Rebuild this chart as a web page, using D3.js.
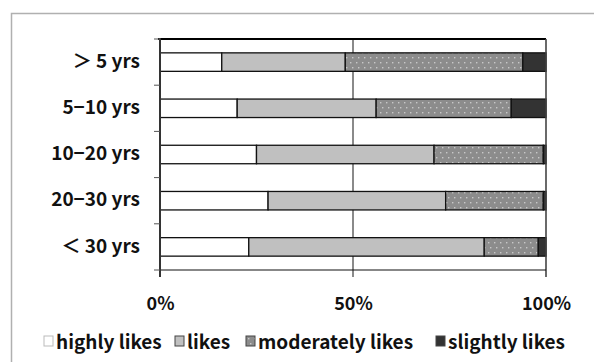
<!DOCTYPE html>
<html><head><meta charset="utf-8">
<script src="https://cdn.jsdelivr.net/npm/d3@7"></script>
<style>body{margin:0;background:#fff}svg{display:block}</style>
</head><body><svg id="c" width="594" height="362"></svg>
<script>
const categories = ["＞ 5 yrs", "5−10 yrs", "10−20 yrs", "20−30 yrs", "＜ 30 yrs"];
const seriesNames = ["highly likes", "likes", "moderately likes", "slightly likes"];
const highlyLikes = [16, 20, 25, 28, 23];
const likes = [32, 36, 46, 46, 61];
const moderatelyLikes = [46, 35, 28.3, 25.3, 14];
const slightlyLikes = [6, 9, 0.7, 0.7, 2];
const tickValues = [0, 0.5, 1];
const tickLabels = ["0%", "50%", "100%"];

const series = [highlyLikes, likes, moderatelyLikes, slightlyLikes];
const fills = ["#ffffff", "#c0c0c0", "url(#dots)", "#333333"];
const FONT = "'Noto Sans CJK JP', sans-serif";

const svg = d3.select("#c");
const defs = svg.append("defs");
const pat = defs.append("pattern").attr("id", "dots").attr("patternUnits", "userSpaceOnUse")
  .attr("width", 6).attr("height", 10);
pat.append("rect").attr("width", 6).attr("height", 10).attr("fill", "#8c8c8c");
pat.append("rect").attr("x", 2).attr("y", 2).attr("width", 1.4).attr("height", 1.4).attr("fill", "#c8c8c8");
pat.append("rect").attr("x", 4).attr("y", 7).attr("width", 1.4).attr("height", 1.4).attr("fill", "#c8c8c8");

// outer frame
svg.append("path").attr("d", "M11.5,362 V13.5 H594").attr("fill", "none").attr("stroke", "#b0b0b0").attr("stroke-width", 1.5);

const x0 = 160, x1 = 546, yTop = 39, yBot = 270;
const x = d3.scaleLinear().domain([0, 1]).range([x0, x1]);
const yb = d3.scaleBand().domain(categories).range([yTop, yBot]).paddingInner(0.6).paddingOuter(0.3);
const yOuter = d3.scaleBand().domain(categories).range([yTop, yBot]);

const rows = categories.map((c, i) => {
  const vals = series.map(s => s[i]);
  const tot = d3.sum(vals);
  let acc = 0;
  return vals.map((v, k) => { const s = acc / tot; acc += v; return {cat: c, k, s, e: acc / tot}; });
});

// 50% gridline
svg.append("line").attr("x1", x(0.5)).attr("x2", x(0.5)).attr("y1", yTop).attr("y2", yBot + 7)
  .attr("stroke", "#8a8a8a").attr("stroke-width", 2);

// bars
const g = svg.append("g");
rows.forEach(r => {
  g.selectAll(null).data(r).enter().append("rect")
    .attr("x", d => x(d.s)).attr("width", d => x(d.e) - x(d.s))
    .attr("y", d => yb(d.cat)).attr("height", yb.bandwidth())
    .attr("fill", d => fills[d.k]).attr("stroke", "#111").attr("stroke-width", 1.3);
});

// plot borders
svg.append("line").attr("x1", x0 - 2).attr("x2", x1).attr("y1", yTop).attr("y2", yTop).attr("stroke", "#000").attr("stroke-width", 2);
svg.append("line").attr("x1", x1).attr("x2", x1).attr("y1", yTop).attr("y2", yBot + 7).attr("stroke", "#444").attr("stroke-width", 1.6);
svg.append("line").attr("x1", x0).attr("x2", x1).attr("y1", yBot).attr("y2", yBot).attr("stroke", "#111").attr("stroke-width", 1.2);

// y axis
const yAxis = d3.axisLeft(yOuter).tickSize(0).tickPadding(18);
const ya = svg.append("g").attr("transform", `translate(${x0},0)`).call(yAxis);
ya.select(".domain").remove();
ya.selectAll("text").attr("font-family", FONT).attr("font-size", 19).attr("font-weight", "bold").attr("fill", "#111").attr("dx", -2).attr("dy", "0.3em");
svg.append("line").attr("x1", x0).attr("x2", x0).attr("y1", yTop - 1).attr("y2", yBot + 7).attr("stroke", "#333").attr("stroke-width", 2);
svg.selectAll(".bt").data(categories.concat(["end"])).enter().append("line")
  .attr("x1", x0 - 6).attr("x2", x0)
  .attr("y1", (d, i) => yTop + i * yOuter.step()).attr("y2", (d, i) => yTop + i * yOuter.step())
  .attr("stroke", "#555").attr("stroke-width", 1);

// x axis labels
const xa = svg.append("g").attr("transform", `translate(0,${yBot})`)
  .call(d3.axisBottom(x).tickValues(tickValues).tickFormat((d, i) => tickLabels[i]).tickSize(0).tickPadding(27));
xa.select(".domain").remove();
xa.selectAll("text").attr("font-family", FONT).attr("font-size", 18).attr("font-weight", "bold").attr("fill", "#111");

// legend
const legX = [44, 175, 246, 436];
const lg = svg.append("g").attr("font-family", FONT).attr("font-size", 19).attr("font-weight", "bold").attr("fill", "#111");
seriesNames.forEach((n, k) => {
  const item = lg.append("g").attr("transform", `translate(${legX[k]},336)`);
  item.append("rect").attr("width", 9).attr("height", 10).attr("fill", fills[k])
    .attr("stroke", k === 0 ? "#bbb" : "#444").attr("stroke-width", 1);
  item.append("text").attr("x", 12).attr("y", 13).text(n);
});
</script></body></html>
